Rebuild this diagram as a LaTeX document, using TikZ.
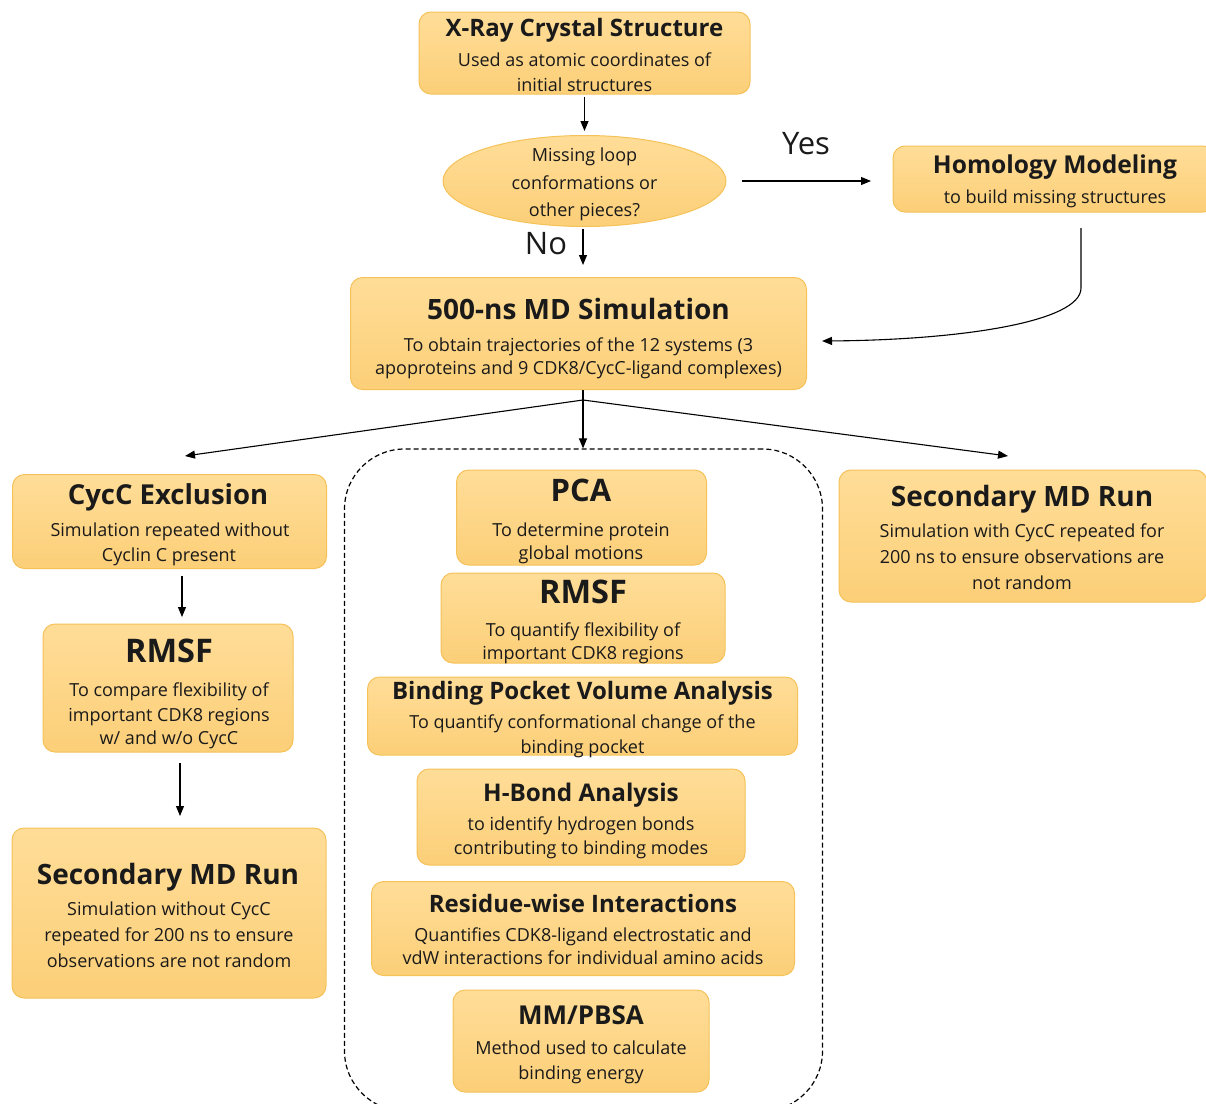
\documentclass[tikz,border=0pt]{standalone}
\usepackage{fontspec}
\setmainfont{Open Sans}
\usetikzlibrary{arrows.meta,shapes.geometric}
\definecolor{boxtop}{HTML}{FFDD98}
\definecolor{boxbot}{HTML}{FCCF78}
\definecolor{boxline}{HTML}{F5C259}
\definecolor{txt}{HTML}{1A1A1A}
\begin{document}
\begin{tikzpicture}[x=1pt,y=-1pt,
 box/.style={draw=boxline, line width=1pt, top color=boxtop, bottom color=boxbot, rounded corners=12pt, inner sep=0pt},
 ttl/.style={font=\bfseries\fontsize{#1}{#1}\selectfont, text=txt, inner sep=0pt, text height=0.714em, text depth=0pt, yshift=-4.5pt},
 sub/.style={font=\fontsize{18}{18}\selectfont, text=txt, inner sep=0pt, text height=0.535em, text depth=0pt, yshift=-4pt},
 lbl/.style={font=\fontsize{#1}{#1}\selectfont, text=txt, inner sep=0pt, text height=0.714em, text depth=0pt, yshift=-4pt},
 arr/.style={line width=1.1pt, -{Triangle[length=10pt,width=8pt]}},
 ln/.style={line width=1.1pt}
]
\useasboundingbox (0,0) rectangle (1206,1103);

% dashed group
\node[draw, line width=1.2pt, dash pattern=on 5pt off 3pt, rounded corners=60pt, minimum width=478pt, minimum height=662pt, inner sep=0pt] (group) at (583.5,780) {};

% X-Ray
\node[box, minimum width=331pt, minimum height=82pt] (xray) at (584.5,53) {};
\node[ttl=24] (xrayT) at (584.5,28.5) {X-Ray Crystal Structure};
\node[sub] (xray1) at (584.5,60) {Used as atomic coordinates of};
\node[sub] (xray2) at (584.5,85) {initial structures};

% question
\node[ellipse, draw=boxline, line width=1pt, top color=boxtop, bottom color=boxbot, minimum width=283pt, minimum height=91pt, inner sep=0pt] (q) at (584.5,181) {};
\node[sub] (q1) at (584.5,155) {Missing loop};
\node[sub] (q2) at (584.5,183) {conformations or};
\node[sub] (q3) at (584.5,210) {other pieces?};

% homology
\node[box, minimum width=322pt, minimum height=66pt] (hom) at (1054,179) {};
\node[ttl=24.6] (homT) at (1055,165) {Homology Modeling};
\node[sub] (hom1) at (1055,197) {to build missing structures};

% Yes / No
\node[lbl=31] (yes) at (806,147) {Yes};
\node[lbl=31] (no) at (546,247) {No};

% MD
\node[box, minimum width=456pt, minimum height=112pt] (md) at (578.5,333.5) {};
\node[ttl=28] (mdT) at (578.5,311) {500-ns MD Simulation};
\node[sub] (md1) at (578.5,345) {To obtain trajectories of the 12 systems (3};
\node[sub] (md2) at (578.5,368) {apoproteins and 9 CDK8/CycC-ligand complexes)};

% left column
\node[box, minimum width=314pt, minimum height=94pt] (cycc) at (169.5,521.5) {};
\node[ttl=27.5] (cyccT) at (168,496) {CycC Exclusion};
\node[sub] (cycc1) at (170,530) {Simulation repeated without};
\node[sub] (cycc2) at (169,555) {Cyclin C present};

\node[box, minimum width=250pt, minimum height=128pt] (rmsfL) at (168,688) {};
\node[ttl=32.5] (rmsfLT) at (169,654) {RMSF};
\node[sub] (rmsfL1) at (169,690) {To compare flexibility of};
\node[sub] (rmsfL2) at (169,715) {important CDK8 regions};
\node[sub] (rmsfL3) at (169,738) {w/ and w/o CycC};

\node[box, minimum width=314pt, minimum height=170pt] (secL) at (169,913) {};
\node[ttl=28] (secLT) at (168,876) {Secondary MD Run};
\node[sub] (secL1) at (169,909) {Simulation without CycC};
\node[sub] (secL2) at (169,935) {repeated for 200 ns to ensure};
\node[sub] (secL3) at (169,961) {observations are not random};

% center column
\node[box, minimum width=250pt, minimum height=95pt] (pca) at (581.5,517.5) {};
\node[ttl=31] (pcaT) at (581,493) {PCA};
\node[sub] (pca1) at (581,530) {To determine protein};
\node[sub] (pca2) at (581,553) {global motions};

\node[box, minimum width=284pt, minimum height=90pt] (rmsfC) at (583,618) {};
\node[ttl=32.5] (rmsfCT) at (583,595) {RMSF};
\node[sub] (rmsfC1) at (583,630) {To quantify flexibility of};
\node[sub] (rmsfC2) at (583,653) {important CDK8 regions};

\node[box, minimum width=430pt, minimum height=78pt] (bpv) at (582.5,716) {};
\node[ttl=24] (bpvT) at (582.5,691) {Binding Pocket Volume Analysis};
\node[sub] (bpv1) at (582.5,722) {To quantify conformational change of the};
\node[sub] (bpv2) at (582.5,747) {binding pocket};

\node[box, minimum width=328pt, minimum height=96pt] (hb) at (581,817) {};
\node[ttl=24.3] (hbT) at (581,793) {H-Bond Analysis};
\node[sub] (hb1) at (581,824) {to identify hydrogen bonds};
\node[sub] (hb2) at (581,848) {contributing to binding modes};

\node[box, minimum width=423pt, minimum height=94pt] (res) at (583,928.5) {};
\node[ttl=24] (resT) at (583,904) {Residue-wise Interactions};
\node[sub] (res1) at (583,935) {Quantifies CDK8-ligand electrostatic and};
\node[sub] (res2) at (583,958) {vdW interactions for individual amino acids};

\node[box, minimum width=256pt, minimum height=102pt] (mm) at (581,1041) {};
\node[ttl=26] (mmT) at (581,1016) {MM/PBSA};
\node[sub] (mm1) at (581,1048) {Method used to calculate};
\node[sub] (mm2) at (581,1073) {binding energy};

% right column
\node[box, minimum width=368pt, minimum height=132pt] (secR) at (1023,536) {};
\node[ttl=28] (secRT) at (1022,498) {Secondary MD Run};
\node[sub] (secR1) at (1022,531) {Simulation with CycC repeated for};
\node[sub] (secR2) at (1022,557) {200 ns to ensure observations are};
\node[sub] (secR3) at (1022,583) {not random};

% connectors
\coordinate (j) at (583,400);
\coordinate (noEnd) at (583,265);
\coordinate (yesS) at (742,181);
\coordinate (yesE) at (871,181);
\coordinate (homS) at (1081,228);
\coordinate (mdIn) at (822,341);
\coordinate (toL) at (185,456);
\coordinate (toR) at (1008,456);
\coordinate (c1) at (182,576);
\coordinate (c2) at (182,617);
\coordinate (r1) at (180,763);
\coordinate (r2) at (180,816);

\draw[arr, shorten <=2pt, shorten >=4pt] (xray.south) -- (q.north);
\draw[arr] (q.south -| noEnd) ++(0,2) -- (noEnd);
\draw[arr] (yesS) -- (yesE);
\draw[arr] (homS) -- (1081,288) .. controls (1081,322) and (960,340) .. (mdIn);
\draw[arr] (j) -- (toL);
\draw[arr] (j) -- (toR);
\draw[arr] (j) -- (group.north -| j);
\draw[ln] (j) -- (md.south -| j);
\draw[arr] (c1) -- (c2);
\draw[arr] (r1) -- (r2);
\end{tikzpicture}
\end{document}
